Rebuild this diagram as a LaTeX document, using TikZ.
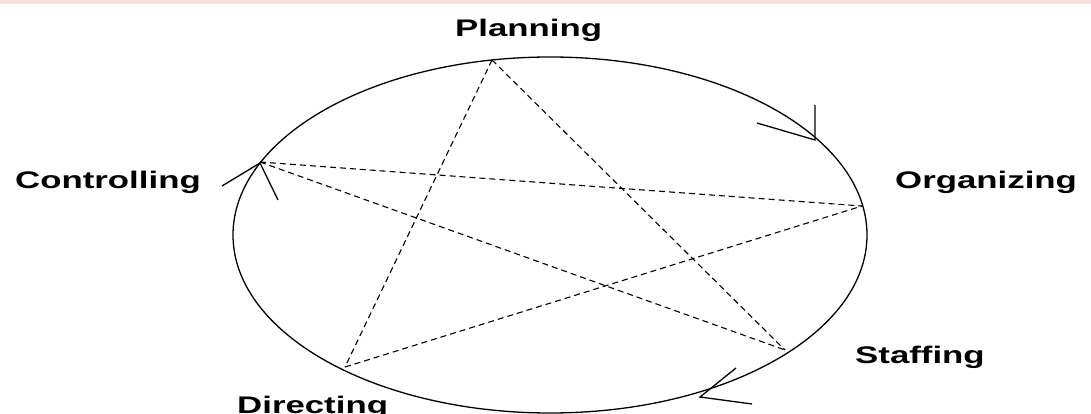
\documentclass[tikz,border=0pt]{standalone}
\usepackage{fontspec}
\newfontfamily\cyclefont[FakeStretch=1.45]{Liberation Sans}
\usetikzlibrary{positioning,calc}
\tikzset{
  stage/.style={anchor=base west,inner sep=0pt,font=\cyclefont\bfseries\fontsize{24}{24}\selectfont},
  cycleline/.style={line width=1.3pt},
  starline/.style={dash pattern=on 6pt off 4pt,line width=1.1pt},
  turnmark/.style={line width=1.3pt}
}

\begin{document}
\begin{tikzpicture}[x=1pt,y=-1pt]
  \useasboundingbox (0,0) rectangle (1091,414);
  \fill[red!12] (0,0) rectangle (1091,4);
  % the cycle
  \draw[cycleline] (550,235) ellipse[x radius=317,y radius=178];
  % star corners
  \coordinate (p) at (492,60);
  \coordinate (o) at (862,206);
  \coordinate (s) at (785,350);
  \coordinate (d) at (345,367);
  \coordinate (c) at (260,162);
  \draw[starline] (p)--(d);
  \draw[starline] (p)--(s);
  \draw[starline] (c)--(o);
  \draw[starline] (c)--(s);
  \draw[starline] (d)--(o);
  % direction marks
  \coordinate (t1) at (815,140);
  \coordinate (t2) at (260,163);
  \coordinate (t3) at (700,397);
  \draw[turnmark] (815,105)--(t1)--(757,123);
  \draw[turnmark] (222,186)--(t2)--(278,200);
  \draw[turnmark] (736,368)--(t3)--(752,404);
  % labels
  \node[stage] (plan) at (455,37) {Planning};
  \node[stage] (ctrl) at (15,189) {Controlling};
  \node[stage] (org) at (895,189) {Organizing};
  \node[stage] (staff) at (855,363) {Staffing};
  \node[stage] (dir) at (237,413) {Directing};
\end{tikzpicture}
\end{document}
